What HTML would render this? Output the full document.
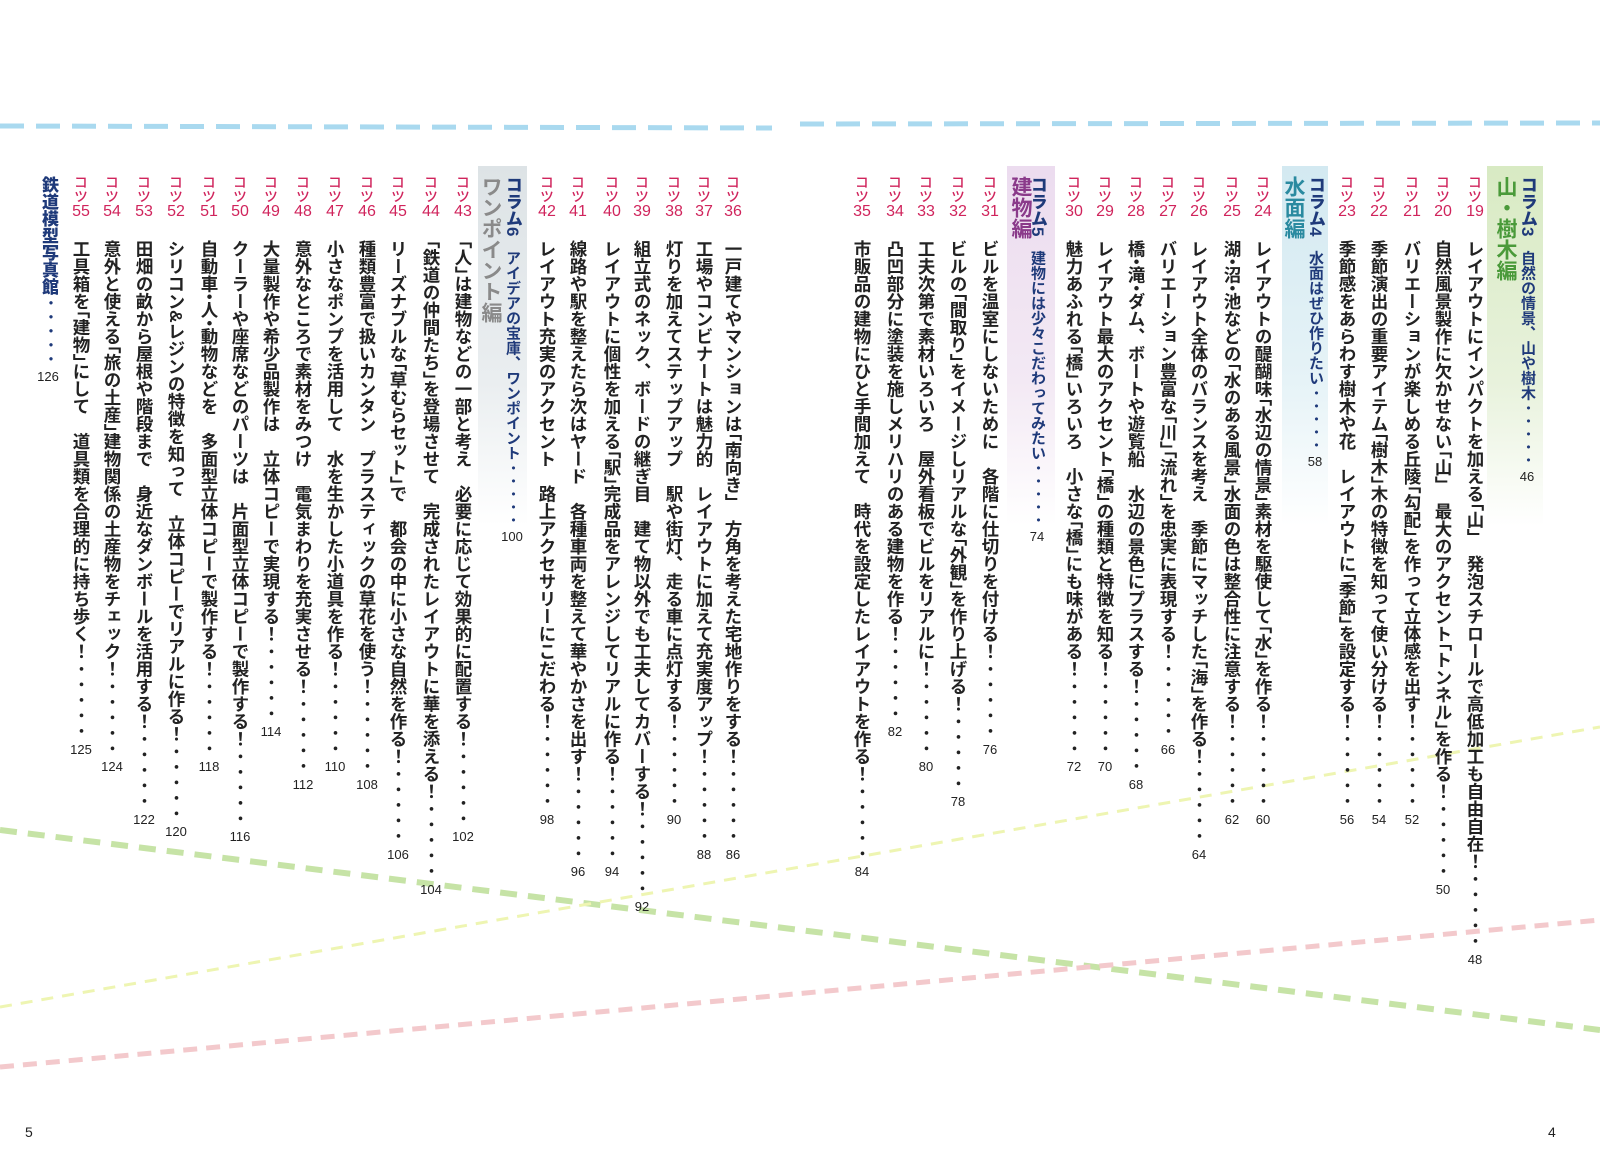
<!DOCTYPE html>
<html><head><meta charset="utf-8"><style>
html,body{margin:0;padding:0;background:#fff}
body{width:1600px;height:1158px;position:relative;overflow:hidden;font-family:"Liberation Sans","Noto Sans CJK JP",sans-serif}
.c{position:absolute;top:0;width:30px;height:1000px}
.k{position:absolute;top:175px;left:0;width:30px;writing-mode:vertical-rl;line-height:30px;font-size:14px;color:#d0245c;font-weight:500}
.n{position:absolute;top:203px;left:0;width:30px;text-align:center;font-size:16px;color:#d0245c;line-height:18px}
.t{position:absolute;top:240px;left:0;width:30px;writing-mode:vertical-rl;line-height:30px;font-size:17.5px;font-weight:700;color:#222;font-feature-settings:"vhal";white-space:nowrap}
.s{font-feature-settings:normal}
.d{font-feature-settings:normal;letter-spacing:-2px;font-weight:400}
.p{display:inline-block;writing-mode:horizontal-tb;font-size:13px;font-weight:400;line-height:14px;margin-top:5px;color:#222;font-feature-settings:normal}
.bg{position:absolute;top:166px;height:360px}
.h{position:absolute;top:176px;width:30px;writing-mode:vertical-rl;line-height:30px;white-space:nowrap;font-weight:700}
.hs{color:#1f3a7a;font-size:15px}
.hs b{font-size:17px;margin-bottom:14px}
.hb{font-size:21px}
.pg{position:absolute;top:1124px;font-size:14px;color:#222}
</style></head><body>
<svg width="1600" height="1158" style="position:absolute;left:0;top:0">
<line x1="0" y1="126" x2="772" y2="128" stroke="#a9d9ef" stroke-width="5" stroke-dasharray="24 12"/>
<line x1="800" y1="124" x2="1600" y2="123" stroke="#a9d9ef" stroke-width="5" stroke-dasharray="24 12"/>
<line x1="0" y1="830" x2="1600" y2="1030" stroke="#c6e3a6" stroke-width="6" stroke-dasharray="17 11"/>
<line x1="0" y1="1007" x2="1600" y2="727" stroke="#eef5b2" stroke-width="3" stroke-dasharray="12 9"/>
<line x1="0" y1="1067" x2="1600" y2="920" stroke="#f3c9cc" stroke-width="5" stroke-dasharray="14 9"/>
</svg>
<div class="bg" style="left:1487px;width:56px;background:linear-gradient(#d8eac3,#e8f2dc 60%,rgba(255,255,255,0))"></div>
<div class="bg" style="left:1282px;width:46px;background:linear-gradient(#d3e9f1,#e6f3f7 60%,rgba(255,255,255,0))"></div>
<div class="bg" style="left:1007px;width:48px;background:linear-gradient(#ecdcef,#f3e9f4 60%,rgba(255,255,255,0))"></div>
<div class="bg" style="left:478px;width:49px;background:linear-gradient(#dde3e6,#eaeef0 60%,rgba(255,255,255,0))"></div>

<div class="h hs" style="left:1512px"><b>コラム3</b>自然の情景、山や樹木<span class="d">・・・・・</span><span class="p">46</span></div>
<div class="h hb" style="left:1490px;color:#4a9a3a">山・樹木編</div>
<div class="h hs" style="left:1300px"><b>コラム4</b>水面はぜひ作りたい<span class="d">・・・・・</span><span class="p">58</span></div>
<div class="h hb" style="left:1278px;color:#2a8aa0">水面編</div>
<div class="h hs" style="left:1022px"><b>コラム5</b>建物には少々こだわってみたい<span class="d">・・・・・</span><span class="p">74</span></div>
<div class="h hb" style="left:1005px;color:#8a3a8a">建物編</div>
<div class="h hs" style="left:497px"><b>コラム6</b>アイデアの宝庫、ワンポイント<span class="d">・・・・・</span><span class="p">100</span></div>
<div class="h hb" style="left:475px;color:#8a8a8a">ワンポイント編</div>
<div class="h hs" style="left:33px;font-size:16px"><b style="font-size:17px;margin:0">鉄道模型写真館</b><span class="d">・・・・・</span><span class="p">126</span></div>

<div class="c" style="left:1460px"><div class="k">コツ</div><div class="n">19</div><div class="t">レイアウトにインパクトを加える「山」<span class="s">　</span>発泡スチロールで高低加工も自由自在！<span class="d">・・・・・</span><span class="p">48</span></div></div>
<div class="c" style="left:1428px"><div class="k">コツ</div><div class="n">20</div><div class="t">自然風景製作に欠かせない「山」<span class="s">　</span>最大のアクセント「トンネル」を作る！<span class="d">・・・・・</span><span class="p">50</span></div></div>
<div class="c" style="left:1397px"><div class="k">コツ</div><div class="n">21</div><div class="t">バリエーションが楽しめる丘陵「勾配」を作って立体感を出す！<span class="d">・・・・・</span><span class="p">52</span></div></div>
<div class="c" style="left:1364px"><div class="k">コツ</div><div class="n">22</div><div class="t">季節演出の重要アイテム「樹木」木の特徴を知って使い分ける！<span class="d">・・・・・</span><span class="p">54</span></div></div>
<div class="c" style="left:1332px"><div class="k">コツ</div><div class="n">23</div><div class="t">季節感をあらわす樹木や花<span class="s">　</span>レイアウトに「季節」を設定する！<span class="d">・・・・・</span><span class="p">56</span></div></div>
<div class="c" style="left:1248px"><div class="k">コツ</div><div class="n">24</div><div class="t">レイアウトの醍醐味「水辺の情景」素材を駆使して「水」を作る！<span class="d">・・・・・</span><span class="p">60</span></div></div>
<div class="c" style="left:1217px"><div class="k">コツ</div><div class="n">25</div><div class="t">湖・沼・池などの「水のある風景」水面の色は整合性に注意する！<span class="d">・・・・・</span><span class="p">62</span></div></div>
<div class="c" style="left:1184px"><div class="k">コツ</div><div class="n">26</div><div class="t">レイアウト全体のバランスを考え<span class="s">　</span>季節にマッチした「海」を作る！<span class="d">・・・・・</span><span class="p">64</span></div></div>
<div class="c" style="left:1153px"><div class="k">コツ</div><div class="n">27</div><div class="t">バリエーション豊富な「川」「流れ」を忠実に表現する！<span class="d">・・・・・</span><span class="p">66</span></div></div>
<div class="c" style="left:1121px"><div class="k">コツ</div><div class="n">28</div><div class="t">橋・滝・ダム<span class="s">、</span>ボートや遊覧船<span class="s">　</span>水辺の景色にプラスする！<span class="d">・・・・・</span><span class="p">68</span></div></div>
<div class="c" style="left:1090px"><div class="k">コツ</div><div class="n">29</div><div class="t">レイアウト最大のアクセント「橋」の種類と特徴を知る！<span class="d">・・・・・</span><span class="p">70</span></div></div>
<div class="c" style="left:1059px"><div class="k">コツ</div><div class="n">30</div><div class="t">魅力あふれる「橋」いろいろ<span class="s">　</span>小さな「橋」にも味がある！<span class="d">・・・・・</span><span class="p">72</span></div></div>
<div class="c" style="left:975px"><div class="k">コツ</div><div class="n">31</div><div class="t">ビルを温室にしないために<span class="s">　</span>各階に仕切りを付ける！<span class="d">・・・・・</span><span class="p">76</span></div></div>
<div class="c" style="left:943px"><div class="k">コツ</div><div class="n">32</div><div class="t">ビルの「間取り」をイメージしリアルな「外観」を作り上げる！<span class="d">・・・・・</span><span class="p">78</span></div></div>
<div class="c" style="left:911px"><div class="k">コツ</div><div class="n">33</div><div class="t">工夫次第で素材いろいろ<span class="s">　</span>屋外看板でビルをリアルに！<span class="d">・・・・・</span><span class="p">80</span></div></div>
<div class="c" style="left:880px"><div class="k">コツ</div><div class="n">34</div><div class="t">凸凹部分に塗装を施しメリハリのある建物を作る！<span class="d">・・・・・</span><span class="p">82</span></div></div>
<div class="c" style="left:847px"><div class="k">コツ</div><div class="n">35</div><div class="t">市販品の建物にひと手間加えて<span class="s">　</span>時代を設定したレイアウトを作る！<span class="d">・・・・・</span><span class="p">84</span></div></div>

<div class="c" style="left:718px"><div class="k">コツ</div><div class="n">36</div><div class="t">一戸建てやマンションは「南向き」<span class="s">　</span>方角を考えた宅地作りをする！<span class="d">・・・・・</span><span class="p">86</span></div></div>
<div class="c" style="left:689px"><div class="k">コツ</div><div class="n">37</div><div class="t">工場やコンビナートは魅力的<span class="s">　</span>レイアウトに加えて充実度アップ！<span class="d">・・・・・</span><span class="p">88</span></div></div>
<div class="c" style="left:659px"><div class="k">コツ</div><div class="n">38</div><div class="t">灯りを加えてステップアップ<span class="s">　</span>駅や街灯<span class="s">、</span>走る車に点灯する！<span class="d">・・・・・</span><span class="p">90</span></div></div>
<div class="c" style="left:627px"><div class="k">コツ</div><div class="n">39</div><div class="t">組立式のネック<span class="s">、</span>ボードの継ぎ目<span class="s">　</span>建て物以外でも工夫してカバーする！<span class="d">・・・・・</span><span class="p">92</span></div></div>
<div class="c" style="left:597px"><div class="k">コツ</div><div class="n">40</div><div class="t">レイアウトに個性を加える「駅」完成品をアレンジしてリアルに作る！<span class="d">・・・・・</span><span class="p">94</span></div></div>
<div class="c" style="left:563px"><div class="k">コツ</div><div class="n">41</div><div class="t">線路や駅を整えたら次はヤード<span class="s">　</span>各種車両を整えて華やかさを出す！<span class="d">・・・・・</span><span class="p">96</span></div></div>
<div class="c" style="left:532px"><div class="k">コツ</div><div class="n">42</div><div class="t">レイアウト充実のアクセント<span class="s">　</span>路上アクセサリーにこだわる！<span class="d">・・・・・</span><span class="p">98</span></div></div>
<div class="c" style="left:448px"><div class="k">コツ</div><div class="n">43</div><div class="t">「人」は建物などの一部と考え<span class="s">　</span>必要に応じて効果的に配置する！<span class="d">・・・・・</span><span class="p">102</span></div></div>
<div class="c" style="left:416px"><div class="k">コツ</div><div class="n">44</div><div class="t">「鉄道の仲間たち」を登場させて<span class="s">　</span>完成されたレイアウトに華を添える！<span class="d">・・・・・</span><span class="p">104</span></div></div>
<div class="c" style="left:383px"><div class="k">コツ</div><div class="n">45</div><div class="t">リーズナブルな「草むらセット」で<span class="s">　</span>都会の中に小さな自然を作る！<span class="d">・・・・・</span><span class="p">106</span></div></div>
<div class="c" style="left:352px"><div class="k">コツ</div><div class="n">46</div><div class="t">種類豊富で扱いカンタン<span class="s">　</span>プラスティックの草花を使う！<span class="d">・・・・・</span><span class="p">108</span></div></div>
<div class="c" style="left:320px"><div class="k">コツ</div><div class="n">47</div><div class="t">小さなポンプを活用して<span class="s">　</span>水を生かした小道具を作る！<span class="d">・・・・・</span><span class="p">110</span></div></div>
<div class="c" style="left:288px"><div class="k">コツ</div><div class="n">48</div><div class="t">意外なところで素材をみつけ<span class="s">　</span>電気まわりを充実させる！<span class="d">・・・・・</span><span class="p">112</span></div></div>
<div class="c" style="left:256px"><div class="k">コツ</div><div class="n">49</div><div class="t">大量製作や希少品製作は<span class="s">　</span>立体コピーで実現する！<span class="d">・・・・・</span><span class="p">114</span></div></div>
<div class="c" style="left:225px"><div class="k">コツ</div><div class="n">50</div><div class="t">クーラーや座席などのパーツは<span class="s">　</span>片面型立体コピーで製作する！<span class="d">・・・・・</span><span class="p">116</span></div></div>
<div class="c" style="left:194px"><div class="k">コツ</div><div class="n">51</div><div class="t">自動車・人・動物などを<span class="s">　</span>多面型立体コピーで製作する！<span class="d">・・・・・</span><span class="p">118</span></div></div>
<div class="c" style="left:161px"><div class="k">コツ</div><div class="n">52</div><div class="t">シリコン&amp;レジンの特徴を知って<span class="s">　</span>立体コピーでリアルに作る！<span class="d">・・・・・</span><span class="p">120</span></div></div>
<div class="c" style="left:129px"><div class="k">コツ</div><div class="n">53</div><div class="t">田畑の畝から屋根や階段まで<span class="s">　</span>身近なダンボールを活用する！<span class="d">・・・・・</span><span class="p">122</span></div></div>
<div class="c" style="left:97px"><div class="k">コツ</div><div class="n">54</div><div class="t">意外と使える「旅の土産」建物関係の土産物をチェック！<span class="d">・・・・・</span><span class="p">124</span></div></div>
<div class="c" style="left:66px"><div class="k">コツ</div><div class="n">55</div><div class="t">工具箱を「建物」にして<span class="s">　</span>道具類を合理的に持ち歩く！<span class="d">・・・・・</span><span class="p">125</span></div></div>

<div class="pg" style="left:25px">5</div>
<div class="pg" style="left:1548px">4</div>
</body></html>
